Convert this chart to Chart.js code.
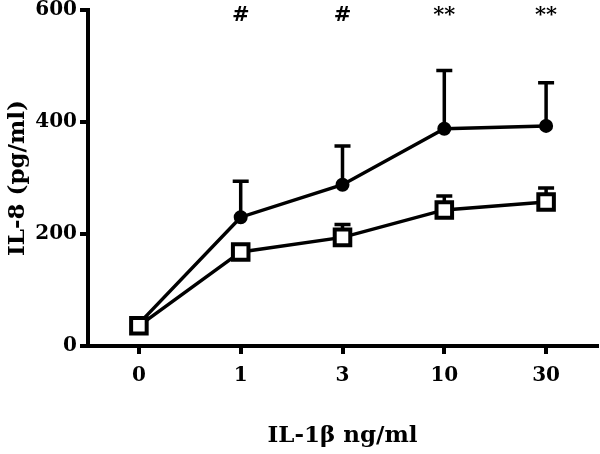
<!DOCTYPE html>
<html>
<head>
<meta charset="utf-8">
<script src="https://cdn.jsdelivr.net/npm/chart.js@4"></script>
<style>
  html, body { margin: 0; padding: 0; background: #fff; }
  #wrap { width: 600px; height: 454px; }
</style>
</head>
<body>
<div id="wrap"><canvas id="c"></canvas></div>
<script>
const doses = ['0', '1', '3', '10', '30'];
const circleMeans = [40, 230, 288, 388, 393];
const circleErr = [0, 64, 69, 104, 77];
const squareMeans = [36, 168, 194, 243, 257];
const squareErr = [0, 13, 23, 25, 25];
const marks = ['', '#', '#', '**', '**'];
const yTicks = [0, 200, 400, 600];

const FONT = "'DejaVu Serif', serif";

// upward-only error bars, drawn under the markers
const errorBars = {
  id: 'errorBars',
  beforeDatasetsDraw(chart) {
    const { ctx, scales: { x, y } } = chart;
    ctx.save();
    ctx.strokeStyle = '#000';
    ctx.lineWidth = 3.5;
    ctx.lineCap = 'butt';
    chart.data.datasets.forEach((ds) => {
      ds.data.forEach((v, i) => {
        const e = ds.errors[i];
        if (!e) return;
        const px = x.getPixelForValue(i);
        const top = y.getPixelForValue(v + e);
        ctx.beginPath();
        ctx.moveTo(px, y.getPixelForValue(v));
        ctx.lineTo(px, top);
        ctx.moveTo(px - ds.capHalf, top);
        ctx.lineTo(px + ds.capHalf, top);
        ctx.stroke();
      });
    });
    ctx.restore();
  },
  afterDraw(chart) {
    const { ctx, scales: { x, y } } = chart;
    ctx.save();
    ctx.fillStyle = '#000';
    ctx.font = 'bold 21px ' + FONT;
    ctx.textAlign = 'center';
    ctx.textBaseline = 'middle';
    marks.forEach((m, i) => {
      if (m) ctx.fillText(m, x.getPixelForValue(i), y.getPixelForValue(590));
    });
    ctx.restore();
  }
};

new Chart(document.getElementById('c'), {
  type: 'line',
  data: {
    labels: doses,
    datasets: [
      {
        label: 'squares',
        data: squareMeans,
        errors: squareErr,
        capHalf: 8,
        borderColor: '#000',
        borderWidth: 3.5,
        pointStyle: 'rect',
        pointRadius: 11,
        pointBorderWidth: 4,
        pointBackgroundColor: '#fff',
        pointBorderColor: '#000',
        tension: 0
      },
      {
        label: 'circles',
        data: circleMeans,
        errors: circleErr,
        capHalf: 8,
        borderColor: '#000',
        borderWidth: 3.5,
        pointStyle: 'circle',
        pointRadius: 6,
        pointBorderWidth: 2,
        pointBackgroundColor: '#000',
        pointBorderColor: '#000',
        tension: 0
      }
    ]
  },
  options: {
    responsive: true,
    maintainAspectRatio: false,
    animation: false,
    layout: { autoPadding: false, padding: { top: 10, right: 3, left: 0, bottom: 0 } },
    plugins: { legend: { display: false }, tooltip: { enabled: false } },
    scales: {
      x: {
        offset: true,
        border: { color: '#000', width: 4 },
        grid: { display: true, drawOnChartArea: false, color: '#000', lineWidth: 4, tickLength: 8, offset: false },
        ticks: { color: '#000', font: { family: FONT, weight: 'bold', size: 20 }, padding: 10 },
        title: { display: true, text: 'IL-1β ng/ml', color: '#000', font: { family: FONT, weight: 'bold', size: 23 }, padding: { top: 20 } },
        afterFit(s) { s.height = 108; }
      },
      y: {
        min: 0,
        max: 600,
        afterBuildTicks(s) { s.ticks = yTicks.map((v) => ({ value: v })); },
        border: { color: '#000', width: 4 },
        grid: { display: true, drawOnChartArea: false, color: '#000', lineWidth: 4, tickLength: 8 },
        ticks: { color: '#000', font: { family: FONT, weight: 'bold', size: 20 }, padding: 3 },
        title: { display: true, text: 'IL-8 (pg/ml)', color: '#000', font: { family: FONT, weight: 'bold', size: 23 }, padding: { bottom: 0 } },
        afterFit(s) { s.width = 88; s.paddingTop = 0; s.paddingBottom = 0; }
      }
    }
  },
  plugins: [errorBars]
});
</script>
</body>
</html>
